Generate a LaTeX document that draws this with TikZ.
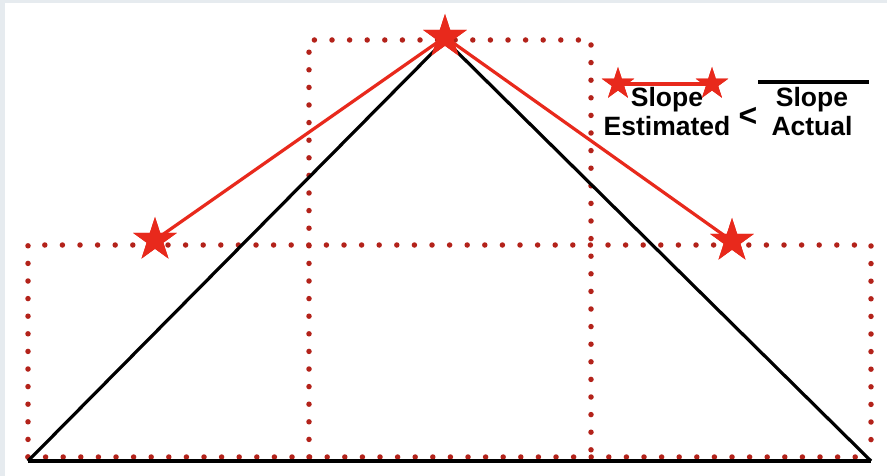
\documentclass[tikz,border=0pt]{standalone}
\usepackage{fontspec}
\setmainfont{Liberation Sans}
\usetikzlibrary{shapes.geometric}
\definecolor{starred}{HTML}{E8291C}
\definecolor{dotred}{HTML}{B3221A}
\definecolor{slidebg}{HTML}{E6EBEF}
\tikzset{
  dotline/.style={dotred, line width=5.5pt, line cap=round, dash pattern=on 0pt off 17.6pt},
  bigstar/.style={star, star points=5, star point ratio=2.618, minimum size=46pt, inner sep=0pt, fill=starred, draw=none},
  smallstar/.style={star, star points=5, star point ratio=2.618, minimum size=34pt, inner sep=0pt, fill=starred, draw=none},
  redline/.style={starred, line width=3.2pt},
  blackline/.style={black, line width=3.2pt},
  lbl/.style={font=\fontsize{26.5}{30}\selectfont\bfseries, inner sep=0pt, anchor=base}
}
\begin{document}
\begin{tikzpicture}[x=1pt,y=-1pt]
\fill[slidebg] (0,0) rectangle (887,476);
\fill[white] (5,3) rectangle (887,476);
\useasboundingbox (0,0) rectangle (887,476);
% dotted rectangles
\draw[dotline] (309,457) -- (309,40) -- (591,40) -- (591,457);
\draw[dotline] (28,457) -- (28,245) -- (871,245) -- (871,457);
\draw[dotline] (28,457) -- (871,457);
% triangle
\coordinate (bl) at (28,461);
\coordinate (br) at (871,461);
\coordinate (ap) at (445,40);
\draw[blackline] (bl) -- (br);
\draw[blackline] (bl) -- (ap) -- (br);
% stars and estimate lines
\node[bigstar] (sL) at (155,240) {};
\node[bigstar] (sA) at (445,37) {};
\node[bigstar] (sR) at (732,241) {};
\draw[redline] (sL.center) -- (sA.center) -- (sR.center);
\node[bigstar] at (sL) {};
\node[bigstar] at (sA) {};
\node[bigstar] at (sR) {};
% legend
\node[smallstar] (l1) at (618,84) {};
\node[smallstar] (l2) at (712,84) {};
\draw[redline] (l1.center) -- (l2.center);
\node[smallstar] at (l1) {};
\node[smallstar] at (l2) {};
\node[lbl] (t1) at (667,107) {Slope};
\node[lbl] (t2) at (667,136) {Estimated};
\node[font=\fontsize{32}{34}\selectfont\bfseries, inner sep=0pt] (lt) at (748,117) {<};
\coordinate (o1) at (758,82);
\coordinate (o2) at (869,82);
\draw[blackline] (o1) -- (o2);
\node[lbl] (t3) at (812,107) {Slope};
\node[lbl] (t4) at (812,136) {Actual};
\end{tikzpicture}
\end{document}
